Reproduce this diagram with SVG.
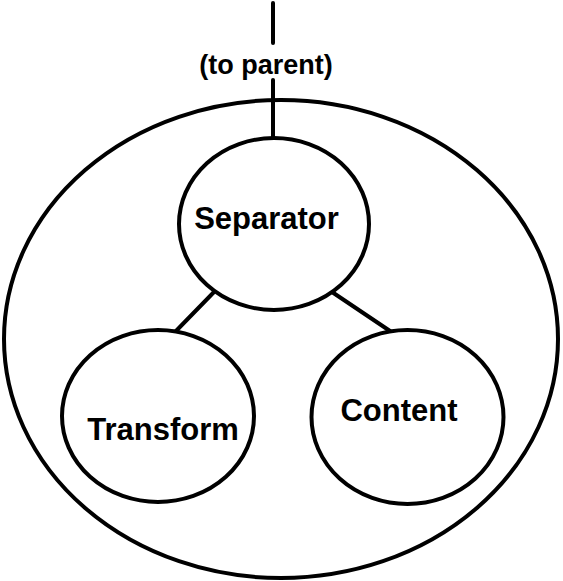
<svg xmlns="http://www.w3.org/2000/svg" width="563" height="581" viewBox="0 0 563 581">
<style>
.shape{fill:none;stroke:#000;stroke-width:4}
.node{fill:#fff;stroke:#000;stroke-width:4}
.conn{stroke:#000;stroke-width:4;stroke-linecap:round;fill:none}
.lbl{font-family:"Liberation Sans",Arial,sans-serif;font-weight:bold;font-size:31px;text-anchor:middle;fill:#000}
.small{font-size:27px}
</style>
<rect width="563" height="581" fill="#fff"/>
<g id="group-boundary">
<ellipse class="shape" cx="281" cy="339" rx="277" ry="239"/>
</g>
<g id="connectors">
<line class="conn" x1="273" y1="3" x2="273" y2="43"/>
<line class="conn" x1="273" y1="80" x2="273" y2="138"/>
<line class="conn" x1="214" y1="292" x2="176" y2="331"/>
<line class="conn" x1="332" y1="292" x2="390" y2="331"/>
</g>
<g id="label-parent">
<text class="lbl small" x="266" y="74">(to parent)</text>
</g>
<g id="node-separator">
<ellipse class="node" cx="274" cy="224" rx="95" ry="86"/>
<text class="lbl" x="266.5" y="229">Separator</text>
</g>
<g id="node-transform">
<ellipse class="node" cx="158" cy="416" rx="96" ry="86"/>
<text class="lbl" x="163" y="440">Transform</text>
</g>
<g id="node-content">
<ellipse class="node" cx="407.5" cy="417" rx="96" ry="87"/>
<text class="lbl" x="399" y="421">Content</text>
</g>
</svg>
